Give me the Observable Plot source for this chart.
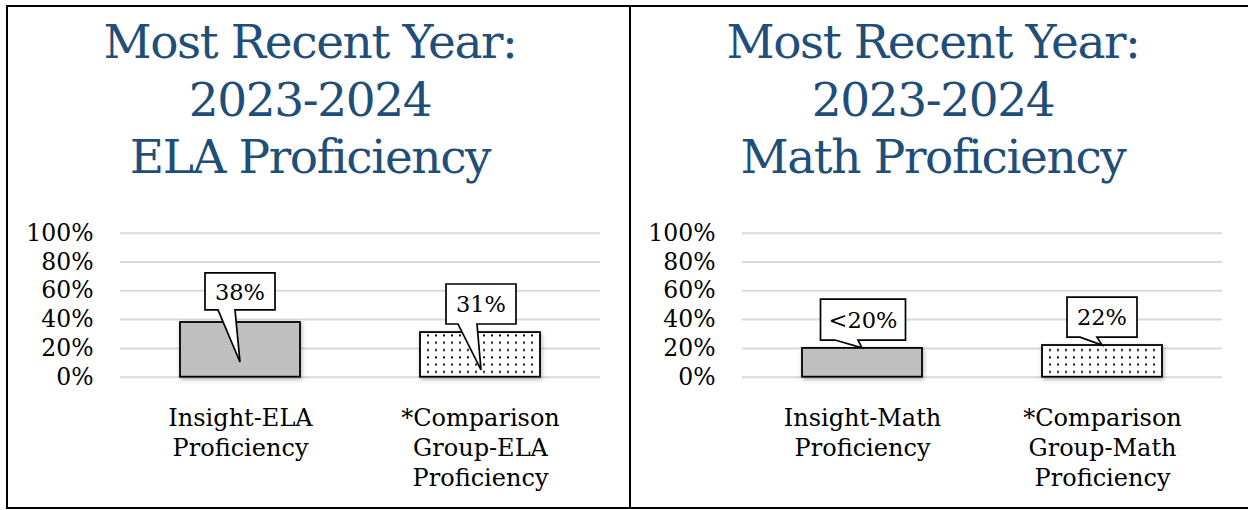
<!DOCTYPE html>
<html>
<head>
<meta charset="utf-8">
<script src="https://cdn.jsdelivr.net/npm/d3@7"></script>
<script src="https://cdn.jsdelivr.net/npm/@observablehq/plot@0.6"></script>
<style>
  html, body { margin: 0; padding: 0; background: #fff; width: 1248px; height: 510px; overflow: hidden; }
  body { position: relative; font-family: "DejaVu Serif", serif; }
  .frame { position: absolute; left: 6px; top: 5px; width: 1260px; height: 504px; border: 2px solid #000; box-sizing: border-box; z-index: 5; pointer-events: none; }
  .divider { position: absolute; left: 629px; top: 5px; width: 2px; height: 504px; background: #000; z-index: 5; }
  .title { position: absolute; top: 13px; text-align: center; color: #1f4e79; font-family: "DejaVu Serif", serif; font-size: 47px; line-height: 57.5px; letter-spacing: -1.4px; white-space: nowrap; }
  .chart { position: absolute; top: 200px; }
</style>
</head>
<body>
<div class="title" style="left:10px;width:600px">Most Recent Year:<br>2023-2024<br>ELA Proficiency</div>
<div class="title" style="left:633px;width:600px">Most Recent Year:<br>2023-2024<br>Math Proficiency</div>
<div id="ela" class="chart" style="left:0px"></div>
<div id="math" class="chart" style="left:630px"></div>
<div class="frame"></div>
<div class="divider"></div>
<script>
// ---- data ----
const elaCategories = ["Insight-ELA\nProficiency", "*Comparison\nGroup-ELA\nProficiency"];
const elaValues = [38, 31];
const elaLabels = ["38%", "31%"];

const mathCategories = ["Insight-Math\nProficiency", "*Comparison\nGroup-Math\nProficiency"];
const mathValues = [20, 22];
const mathLabels = ["<20%", "22%"];

const yTicks = [0, 20, 40, 60, 80, 100];

// ---- callout layout (box centre in y-units, tip y-units, pixel offsets) ----
const elaCallouts = [
  {boxY: 59.2, tipY: 10.2, w: 70, h: 37, dx: 0, base: [-22, -5], tipDx: 0},
  {boxY: 50.5, tipY: 4.7,  w: 70, h: 40, dx: 1, base: [-23, -4], tipDx: 1}
];
const mathCallouts = [
  {boxY: 39.7, tipY: null, w: 85, h: 41, dx: 1, base: [-28, -5], tipDx: 0},
  {boxY: 41.4, tipY: null, w: 70, h: 40, dx: 0, base: [-22, -5], tipDx: 0}
];

function calloutMark(categories, values, labels, layout) {
  return (index, scales) => {
    const x = scales.x, y = scales.y;
    const bw = x.bandwidth ? x.bandwidth() : 0;
    const g = d3.create("svg:g");
    categories.forEach((c, i) => {
      const L = layout[i];
      const cx = x(c) + bw / 2;
      const bx = cx + L.dx;
      const by = y(L.boxY);
      const x0 = bx - L.w / 2, x1 = bx + L.w / 2, y0 = by - L.h / 2, y1 = by + L.h / 2;
      const tipX = cx + L.tipDx;
      const tipY = y(L.tipY == null ? values[i] : L.tipY);
      const p = d3.path();
      p.moveTo(x0, y0); p.lineTo(x1, y0); p.lineTo(x1, y1);
      p.lineTo(bx + L.base[1], y1); p.lineTo(tipX, tipY); p.lineTo(bx + L.base[0], y1);
      p.lineTo(x0, y1); p.closePath();
      g.append("path").attr("d", p.toString())
        .attr("fill", "#fff").attr("stroke", "#000").attr("stroke-width", 1.7)
        .attr("stroke-linejoin", "miter");
      g.append("text").attr("x", bx).attr("y", by).attr("dy", "0.36em")
        .attr("text-anchor", "middle").attr("font-family", "DejaVu Serif")
        .attr("font-size", 22.5).attr("fill", "#000").text(labels[i]);
    });
    return g.node();
  };
}

function defsMark(id) {
  return () => {
    const defs = d3.create("svg:defs");
    const pat = defs.append("pattern").attr("id", id).attr("patternUnits", "userSpaceOnUse")
      .attr("width", 8).attr("height", 7.3);
    pat.append("rect").attr("width", 8).attr("height", 7.3).attr("fill", "#fff");
    pat.append("rect").attr("x", 3).attr("y", 3).attr("width", 2).attr("height", 2).attr("fill", "#111");
    return defs.node();
  };
}

function makeChart(categories, values, labels, layout, width, marginLeft, marginRight, patId) {
  const data = categories.map((c, i) => ({category: c, value: values[i], idx: i}));
  const svg = Plot.plot({
    width, height: 310,
    marginLeft, marginRight, marginTop: 32.7, marginBottom: 133.3,
    style: {background: "none", fontFamily: "DejaVu Serif", color: "#000", overflow: "visible"},
    x: {domain: categories, paddingInner: 0.5, paddingOuter: 0.25, axis: null, label: null},
    y: {domain: [0, 100], axis: null, label: null},
    marks: [
      defsMark(patId),
      Plot.gridY(yTicks, {stroke: "#d9d9d9", strokeOpacity: 1, strokeWidth: 2}),
      Plot.axisY(yTicks, {tickSize: 0, tickPadding: 27, fontSize: 23.5, tickFormat: d => d + "%", fill: "#000", label: null}),
      Plot.axisX(categories, {tickSize: 0, tickPadding: 28, fontSize: 24, lineHeight: 1.24, fill: "#000", anchor: "bottom", label: null}),
      Plot.barY(data, {x: "category", y: "value",
        fill: d => d.idx === 0 ? "#bfbfbf" : `url(#${patId})`,
        stroke: "#000", strokeWidth: 1.8}),
      calloutMark(categories, values, labels, layout)
    ]
  });
  svg.querySelectorAll('g[aria-label="bar"]').forEach(gEl => {
    gEl.style.filter = "drop-shadow(1px 2px 2px rgba(0,0,0,0.3))";
  });
  return svg;
}

document.getElementById("ela").append(
  makeChart(elaCategories, elaValues, elaLabels, elaCallouts, 630, 120, 30, "dotsEla"));
document.getElementById("math").append(
  makeChart(mathCategories, mathValues, mathLabels, mathCallouts, 618, 112, 26, "dotsMath"));
</script>
</body>
</html>
